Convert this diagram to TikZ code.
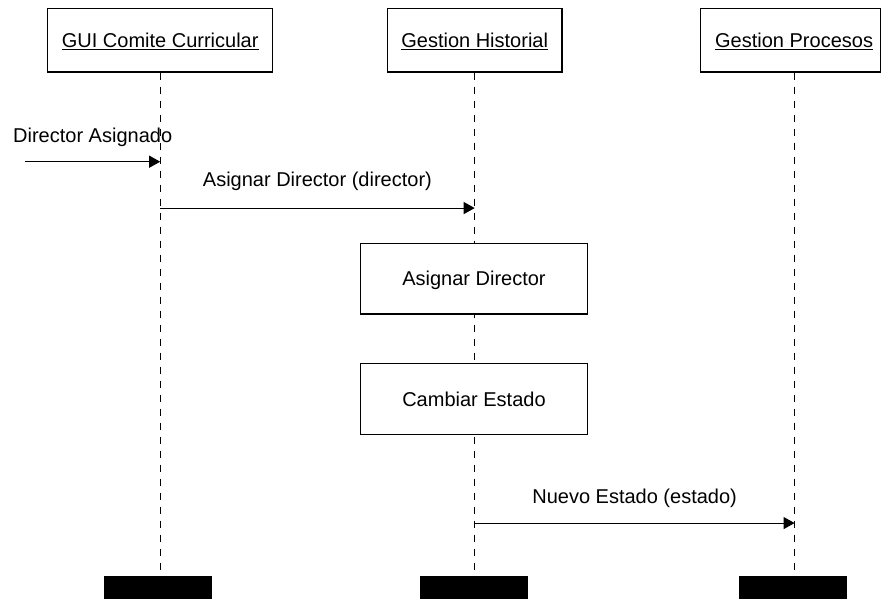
\documentclass[tikz,border=0pt]{standalone}
\usepackage{fontspec}
\setmainfont{Liberation Sans}
\usetikzlibrary{arrows.meta}
\begin{document}
\begin{tikzpicture}[x=1pt,y=-1pt,
 every node/.style={font=\fontsize{20}{24}\selectfont},
 obj/.style={draw, line width=1.2pt, fill=white, inner sep=0pt, text height=14.3pt, text depth=0pt},
 life/.style={line width=1pt, dash pattern=on 7pt off 7pt},
 msg/.style={line width=1pt, -{Triangle[length=11pt,width=12pt]}},
 endbar/.style={fill=black, inner sep=0pt, minimum width=108pt, minimum height=23pt},
 lbl/.style={anchor=base, inner sep=0pt}]
\useasboundingbox (0,0) rectangle (881,600);
% objects
\node[obj, minimum width=225pt, minimum height=63.5pt] (gui) at (160.2,40.2) {\underline{GUI Comite Curricular}};
\node[obj, minimum width=174.7pt, minimum height=63.5pt] (gh) at (474.7,40.2) {\underline{Gestion Historial}};
\node[obj, minimum width=179.8pt, minimum height=63.5pt] (gp) at (790.6,40.2) {\hspace*{7pt}\underline{Gestion Procesos}};
\path (gp.south) ++(4,0) coordinate (l3);
% end bars
\node[endbar] (b1) at (157.7,587.7) {};
\node[endbar] (b2) at (474,587.7) {};
\node[endbar] (b3) at (793.3,587.7) {};
% lifelines
\draw[life] (gui.south) -- (gui.south |- b1.north);
\draw[life] (gh.south) -- (gh.south |- b2.north);
\draw[life] (l3) -- (l3 |- b3.north);
% activations
\node[obj, minimum width=226.6pt, minimum height=70.7pt] (act1) at (474,278.7) {Asignar Director};
\node[obj, minimum width=226.6pt, minimum height=70.7pt] (act2) at (474,399.2) {Cambiar Estado};
% messages
\coordinate (src) at (25,161.7);
\draw[msg] (src) -- (src -| gui.south);
\node[lbl, anchor=base west] (t0) at (13,142.3) {Director Asignado};
\path (gui.south) ++(0,135.5) coordinate (m1s);
\draw[msg] (m1s) -- (m1s -| gh.south);
\node[lbl] (t1) at (317.4,186) {Asignar Director (director)};
\path (gh.south) ++(0,450.5) coordinate (m2s);
\draw[msg] (m2s) -- (m2s -| l3);
\node[lbl] (t2) at (634.6,503.3) {Nuevo Estado (estado)};
\end{tikzpicture}
\end{document}
